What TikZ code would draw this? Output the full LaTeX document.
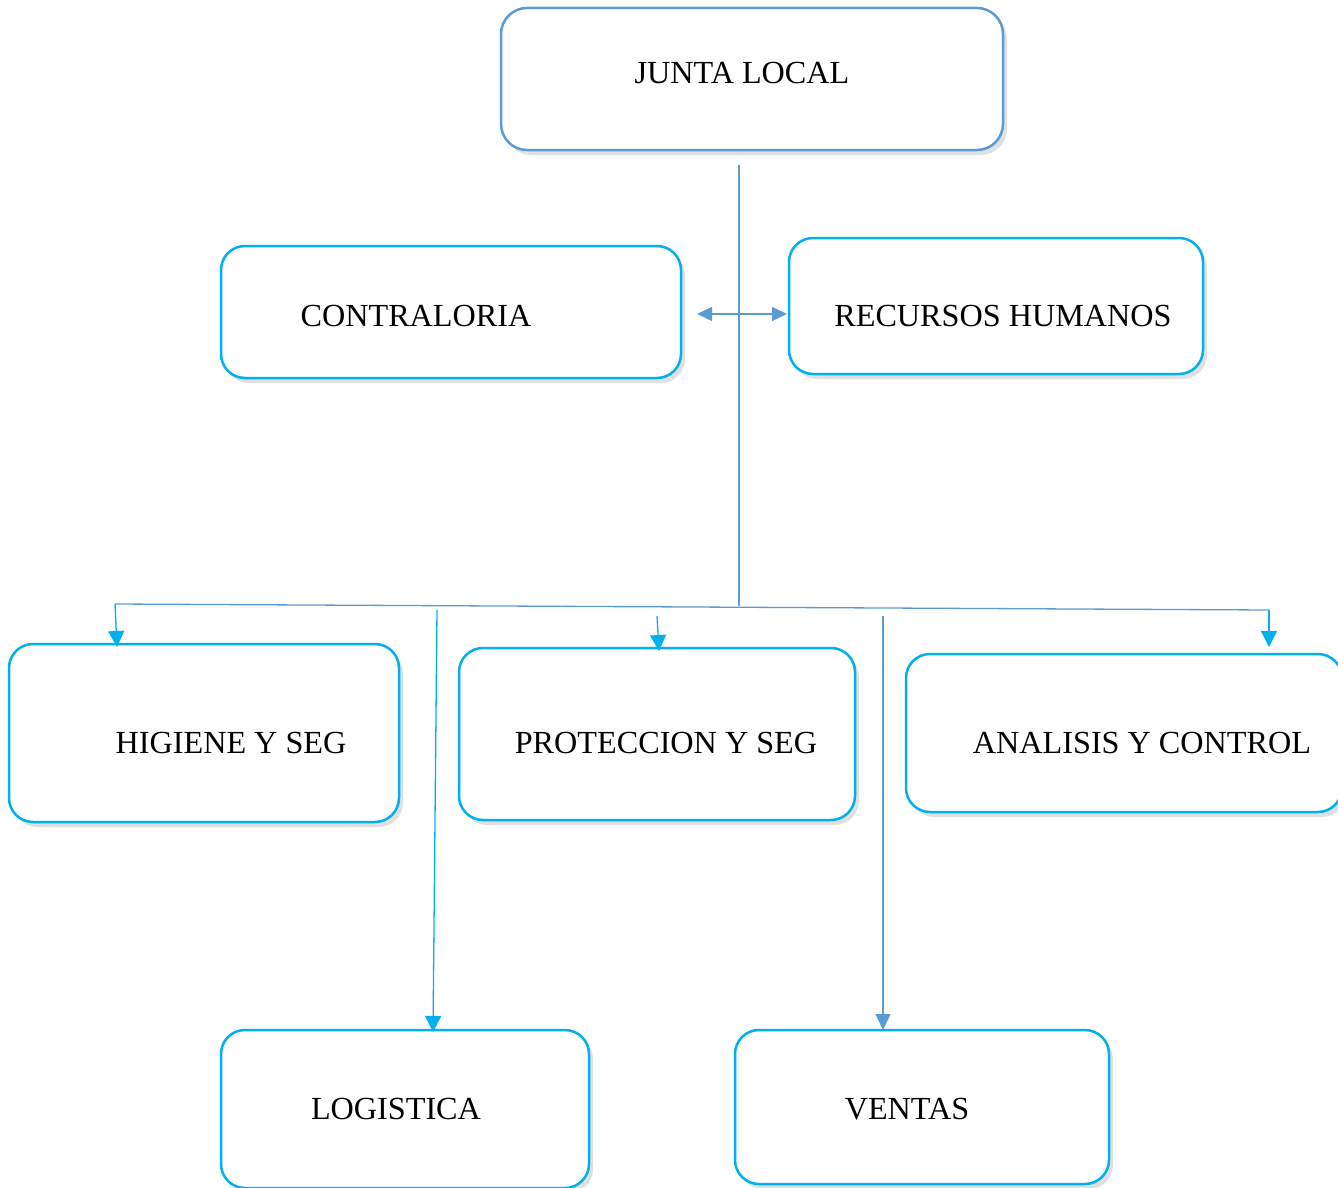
\documentclass[tikz,border=0pt]{standalone}
\usepackage{fontspec}
\setmainfont{Liberation Serif}
\usetikzlibrary{shadows,arrows.meta}
\definecolor{bblue}{HTML}{5B9BD5}
\definecolor{ccyan}{HTML}{00B0F0}
\begin{document}
\begin{tikzpicture}[x=1pt,y=-1pt,
  box/.style={draw=ccyan, line width=2.5pt, rounded corners=24pt, fill=white,
    drop shadow={shadow xshift=4pt, shadow yshift=-5pt, fill=black, opacity=0.12}},
  lbl/.style={font=\fontsize{32.2}{37}\selectfont, inner sep=0pt},
  conn/.style={draw=ccyan, line width=1.3pt},
  bconn/.style={draw=bblue, line width=1.3pt},
  tip/.style={-{Triangle[length=16pt,width=16pt]}},
  btip/.style={-{Triangle[length=16pt,width=15pt]}}
]
\useasboundingbox (0,0) rectangle (1338,1188);
\clip (0,0) rectangle (1338,1188);
% boxes
\node[box, draw=bblue, minimum width=502, minimum height=142, rounded corners=26pt] (junta) at (752,79) {};
\node[box, minimum width=460, minimum height=132] (contra) at (451,312) {};
\node[box, minimum width=414, minimum height=136] (rh) at (996,306) {};
\node[box, minimum width=390, minimum height=178] (hig) at (204,733) {};
\node[box, minimum width=396, minimum height=172] (prot) at (657,734) {};
\node[box, minimum width=436, minimum height=158] (anal) at (1124,733) {};
\node[box, minimum width=368, minimum height=158] (logi) at (405,1109) {};
\node[box, minimum width=374, minimum height=154] (vent) at (922,1107) {};
% texts
\node[lbl] (juntaT) at (742,73) {JUNTA LOCAL};
\node[lbl] (contraT) at (416,316) {CONTRALORIA};
\node[lbl] (rhT) at (1003,316) {RECURSOS HUMANOS};
\node[lbl] (higT) at (231,743) {HIGIENE Y SEG};
\node[lbl] (protT) at (666,743) {PROTECCION Y SEG};
\node[lbl] (analT) at (1142,743) {ANALISIS Y CONTROL};
\node[lbl] (logiT) at (396,1109) {LOGISTICA};
\node[lbl] (ventT) at (907,1109) {VENTAS};
% connector coordinates
\coordinate (vtop) at (739,165);
\coordinate (vbot) at (739,606);
\coordinate (dl) at (697,314);
\coordinate (dr) at (787,314);
\coordinate (hl) at (115,604);
\coordinate (hr) at (1269,610);
\coordinate (a1) at (117,647);
\coordinate (p0) at (657,616);
\coordinate (p1) at (659,651);
\coordinate (a3) at (1269,647);
\coordinate (l0) at (437,610);
\coordinate (l1) at (433,1032);
\coordinate (v0) at (883,616);
\coordinate (v1) at (883,1030);
% connectors
\draw[bconn] (vtop) -- (vbot);
\draw[bconn, {Triangle[length=15pt,width=14pt]}-{Triangle[length=15pt,width=14pt]}] (dl) -- (dr);
\draw[bconn] (hl) -- (hr);
\draw[conn, tip] (hl) -- (a1);
\draw[conn, tip] (p0) -- (p1);
\draw[conn, tip] (hr) -- (a3);
\draw[conn, tip] (l0) -- (l1);
\draw[bconn, btip] (v0) -- (v1);
\end{tikzpicture}
\end{document}
